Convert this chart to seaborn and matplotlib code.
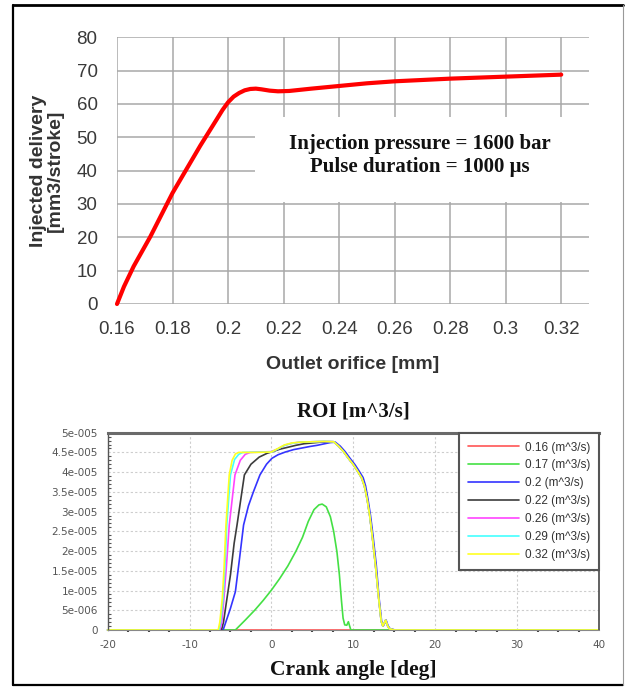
import numpy as np
import pandas as pd
import matplotlib
matplotlib.use("Agg")
import matplotlib.pyplot as plt
from matplotlib.ticker import MultipleLocator, FuncFormatter
from matplotlib.patches import Rectangle
from matplotlib.lines import Line2D
import seaborn as sns

# ---------------- Top chart data ----------------
orifice_mm = [0.16, 0.1625, 0.166, 0.172, 0.18, 0.19, 0.196, 0.198, 0.2, 0.202, 0.204,
              0.206, 0.208, 0.21, 0.212, 0.215, 0.218, 0.222, 0.23, 0.24, 0.25, 0.26,
              0.28, 0.30, 0.32]
delivery = [0, 5.2, 11.3, 20.2, 33.3, 47.5, 55.5, 58.2, 60.5, 62.2, 63.3,
            64.1, 64.5, 64.6, 64.4, 64.0, 63.8, 63.9, 64.6, 65.4, 66.2, 66.8,
            67.6, 68.2, 68.8]
top_xticks = [0.16, 0.18, 0.2, 0.22, 0.24, 0.26, 0.28, 0.3, 0.32]
top_xticklabels = ["0.16", "0.18", "0.2", "0.22", "0.24", "0.26", "0.28", "0.3", "0.32"]
top_yticks = [0, 10, 20, 30, 40, 50, 60, 70, 80]

# ---------------- Bottom chart data (ROI in 1e-6 m^3/s) ----------------
crank_016 = [-20, 40]
roi_016 = [0, 0]

crank_017 = [-20, -4.4, -3.2, -2.0, -1.0, 0, 1, 2, 3, 3.8, 4.5, 5.2, 5.8, 6.2, 6.7,
             7.2, 7.6, 8.0, 8.3, 8.55, 8.75, 8.95, 9.2, 9.4, 9.55, 9.7, 40]
roi_017 = [0, 0, 2.5, 5.1, 7.5, 10.1, 13.0, 16.2, 20.0, 23.5, 27.5, 30.5, 31.7, 31.9, 31.2,
           28.7, 25.0, 19.8, 14.0, 7.5, 3.0, 1.3, 1.2, 2.1, 1.0, 0, 0]

crank_020 = [-20, -5.9, -5.65, -5.0, -4.4, -3.9, -3.4, -2.8, -2.2, -1.4, -0.6, 0.06, 0.8,
             1.7, 2.7, 3.7, 4.7, 5.6, 6.5, 7.2, 7.8, 8.4, 9.0, 9.6, 10.2, 10.7, 11.2,
             11.5, 11.8, 12.1, 12.4, 12.8, 13.15, 13.45, 13.65, 13.8, 14.0, 14.25, 14.5, 15.1, 40]
roi_020 = [0, 0, 1.5, 5.5, 9.7, 18.0, 26.6, 31.5, 35.0, 39.3, 42.0, 43.5, 44.4,
           45.1, 45.7, 46.1, 46.5, 46.8, 47.2, 47.5, 47.6, 46.6, 45.2, 43.5, 41.9, 40.3, 38.6,
           36.5, 33.0, 29.0, 24.0, 16.5, 8.0, 2.3, 1.0, 1.6, 2.5, 1.0, 0.3, 0, 0]

crank_022 = [-20, -6.1, -5.85, -5.5, -5.0, -4.55, -4.2, -3.3, -2.5, -1.5, -0.5, 0.3, 1, 2,
             3, 4, 5, 6, 7, 7.6, 8.2, 8.8, 9.4, 10.0, 10.5, 11.0, 11.35, 11.7, 12.0,
             12.3, 12.7, 13.1, 13.4, 13.6, 13.75, 13.95, 14.2, 14.4, 15.0, 40]
roi_022 = [0, 0, 2.0, 7.0, 14.0, 22.0, 26.6, 39.3, 42.0, 43.8, 44.8, 45.3, 45.8, 46.3,
           46.8, 47.2, 47.4, 47.6, 47.7, 47.7, 46.6, 45.2, 43.5, 41.9, 40.3, 38.6, 36.5, 33.0, 29.0,
           24.0, 16.5, 8.0, 2.3, 1.0, 1.6, 2.5, 1.0, 0.3, 0, 0]

crank_026 = [-20, -6.3, -6.05, -5.8, -5.5, -5.15, -4.45, -3.8, -3.2, -2.6, 0, 0.8, 1.6,
             2.5, 3.5, 5, 6.5, 7.6, 8.2, 8.8, 9.4, 10.0, 10.5, 11.0, 11.35, 11.7, 12.0,
             12.3, 12.7, 13.1, 13.4, 13.6, 13.75, 13.95, 14.2, 14.4, 15.0, 40]
roi_026 = [0, 0, 2.0, 8.0, 16.0, 26.6, 39.3, 43.0, 44.5, 45.0, 45.2, 45.9, 46.8,
           47.3, 47.6, 47.7, 47.8, 47.7, 46.6, 45.2, 43.5, 41.9, 40.3, 38.6, 36.5, 33.0, 29.0,
           24.0, 16.5, 8.0, 2.3, 1.0, 1.6, 2.5, 1.0, 0.3, 0, 0]

crank_029 = [-20, -6.4, -6.2, -5.9, -5.7, -5.45, -5.0, -4.5, -4.0, -3.5, 0, 0.8, 1.6,
             2.5, 3.5, 5, 6.5, 7.6, 8.2, 8.8, 9.4, 10.0, 10.5, 11.0, 11.35, 11.7, 12.0,
             12.3, 12.7, 13.1, 13.4, 13.6, 13.75, 13.95, 14.2, 14.4, 15.0, 40]
roi_029 = [0, 0, 2.0, 8.0, 15.0, 26.6, 39.3, 43.2, 44.5, 45.0, 45.1, 45.9, 46.8,
           47.3, 47.6, 47.7, 47.8, 47.7, 46.6, 45.2, 43.5, 41.9, 40.3, 38.6, 36.5, 33.0, 29.0,
           24.0, 16.5, 8.0, 2.3, 1.0, 1.6, 2.5, 1.0, 0.3, 0, 0]

crank_032 = [-20, -6.5, -6.3, -6.0, -5.8, -5.55, -5.15, -4.8, -4.4, -4.0, -2.0, 0, 0.8,
             1.6, 2.5, 3.5, 5, 6.5, 7.6, 8.2, 8.8, 9.4, 10.0, 10.5, 11.0, 11.35, 11.7, 12.0,
             12.3, 12.7, 13.1, 13.4, 13.6, 13.75, 13.95, 14.2, 14.4, 15.0, 40]
roi_032 = [0, 0, 2.0, 8.0, 15.0, 26.6, 39.3, 43.0, 44.6, 45.0, 45.0, 45.1, 46.0,
           46.9, 47.4, 47.6, 47.7, 47.8, 47.7, 46.6, 45.2, 43.5, 41.9, 40.3, 38.6, 36.5, 33.0, 29.0,
           24.0, 16.5, 8.0, 2.3, 1.0, 1.6, 2.5, 1.0, 0.3, 0, 0]

series_labels = ["0.16 (m^3/s)", "0.17 (m^3/s)", "0.2 (m^3/s)", "0.22 (m^3/s)",
                 "0.26 (m^3/s)", "0.29 (m^3/s)", "0.32 (m^3/s)"]
series_colors = ["#ff5555", "#44e044", "#3434ff", "#3c3c3c", "#ff44ff", "#44ffff", "#ffff22"]
series_x = [crank_016, crank_017, crank_020, crank_022, crank_026, crank_029, crank_032]
series_y = [roi_016, roi_017, roi_020, roi_022, roi_026, roi_029, roi_032]

# ---------------- Style ----------------
sns.set_style("white")
plt.rcParams["font.family"] = ["Liberation Sans", "DejaVu Sans"]
plt.rcParams["axes.unicode_minus"] = False

fig = plt.figure(figsize=(6.25, 6.87), dpi=100)

# ---------------- Top chart ----------------
ax1 = fig.add_axes([0.1872, 0.5575, 0.7552, 0.3882])
sns.lineplot(x=orifice_mm, y=delivery, ax=ax1, color="#ff0000", lw=3.0,
             estimator=None, sort=False, zorder=3)
for ln in ax1.lines:
    ln.set_clip_on(False)
ax1.set_xlim(0.16, 0.33)
ax1.set_ylim(0, 80)
ax1.set_xticks(top_xticks)
ax1.set_xticklabels(top_xticklabels)
ax1.set_yticks(top_yticks)
ax1.set_axisbelow(True)
ax1.grid(True, color="#a8a8a8", lw=1.1)
for s in ax1.spines.values():
    s.set_visible(False)
ax1.tick_params(axis="both", length=0, labelsize=13.5, colors="#3a3a3a")
ax1.tick_params(axis="x", pad=12)
ax1.tick_params(axis="y", pad=14)
ax1.add_patch(Rectangle((0.2097, 30.6), 0.13, 25.5, facecolor="white",
                        edgecolor="none", zorder=1))
ax1.text(0.2692, 48.0, "Injection pressure = 1600 bar", ha="center", va="center",
         family="Liberation Serif", weight="bold", fontsize=15, color="#111111", zorder=4)
ax1.text(0.2692, 41.1, "Pulse duration = 1000 \u03bcs", ha="center", va="center",
         family="Liberation Serif", weight="bold", fontsize=15, color="#111111", zorder=4)
ax1.set_xlabel("Outlet orifice [mm]", fontsize=14, weight="bold", color="#333333",
               labelpad=13)
ax1.set_ylabel("Injected delivery\n[mm3/stroke]", fontsize=14, weight="bold",
               color="#333333", labelpad=9, linespacing=1.0)

# ---------------- Bottom chart ----------------
ax2 = fig.add_axes([0.1722, 0.083, 0.7862, 0.2872])
for xs, ys, lab, col in zip(series_x, series_y, series_labels, series_colors):
    sns.lineplot(x=xs, y=np.array(ys) * 1e-6, ax=ax2, color=col, lw=1.2, label=lab,
                 estimator=None, sort=False)
for ln in ax2.lines:
    ln.set_clip_on(False)
ax2.set_xlim(-20, 40)
ax2.set_ylim(0, 5e-5)
ax2.xaxis.set_major_locator(MultipleLocator(10))
ax2.xaxis.set_minor_locator(MultipleLocator(2.5))
ax2.yaxis.set_major_locator(MultipleLocator(5e-6))
ax2.yaxis.set_minor_locator(MultipleLocator(1e-6))


def sci_fmt(v, pos):
    if abs(v) < 1e-12:
        return "0"
    exp = int(np.floor(np.log10(abs(v))))
    mant = v / 10 ** exp
    return f"{mant:g}e-{-exp:03d}"


ax2.yaxis.set_major_formatter(FuncFormatter(sci_fmt))
ax2.set_axisbelow(True)
ax2.grid(True, which="major", ls=(0, (2, 2)), color="#cdcdcd", lw=0.8)
ax2.spines["top"].set_linewidth(2.2)
ax2.spines["top"].set_color("#6a6a6a")
ax2.spines["left"].set_linewidth(1.0)
ax2.spines["left"].set_color("#555555")
ax2.spines["right"].set_linewidth(1.3)
ax2.spines["right"].set_color("#555555")
ax2.spines["bottom"].set_linewidth(0.8)
ax2.spines["bottom"].set_color("#888888")
ax2.tick_params(axis="both", which="major", direction="out", labelsize=7.5,
                labelcolor="#555555", color="#555555")
ax2.tick_params(axis="x", which="major", length=4.5, width=1.0, pad=3)
ax2.tick_params(axis="y", which="major", length=6, width=1.0, pad=1)
ax2.tick_params(axis="y", which="minor", direction="in", length=2.5, width=0.8,
                color="#555555", left=True)
ax2.tick_params(axis="x", which="minor", direction="out", length=1.5, width=1.5,
                color="#444444", bottom=True)
for lab in ax2.get_xticklabels() + ax2.get_yticklabels():
    lab.set_family("DejaVu Sans")

ax2.set_title("ROI [m^3/s]", family="Liberation Serif", weight="bold", fontsize=15,
              pad=12, color="#111111")
ax2.set_xlabel("Crank angle [deg]", family="Liberation Serif", weight="bold",
               fontsize=15.5, color="#111111", labelpad=7)
ax2.set_ylabel("")

leg = ax2.legend(loc="upper right", bbox_to_anchor=(1, 1), borderaxespad=0,
                 frameon=True, fancybox=False, fontsize=8.5, handlelength=4.3,
                 labelspacing=0.5, borderpad=0.75, handletextpad=0.5)
leg.get_frame().set_edgecolor("#555555")
leg.get_frame().set_linewidth(1.5)
leg.get_frame().set_alpha(1)
for t in leg.get_texts():
    t.set_color("#333333")

# ---------------- Outer frame ----------------
x0, x1 = 13 / 625, 623 / 625
y0, y1 = 1 - 685 / 687, 1 - 5 / 687
fig.add_artist(Line2D([x0, x1], [y1, y1], transform=fig.transFigure, color="black", lw=2))
fig.add_artist(Line2D([x0, x0], [y0, y1], transform=fig.transFigure, color="black", lw=1.6))
fig.add_artist(Line2D([x0, x1], [y0, y0], transform=fig.transFigure, color="black", lw=1.6))
fig.add_artist(Line2D([x1, x1], [y0, y1], transform=fig.transFigure, color="#999999", lw=0.8))

fig.savefig("out.png", dpi=100)
